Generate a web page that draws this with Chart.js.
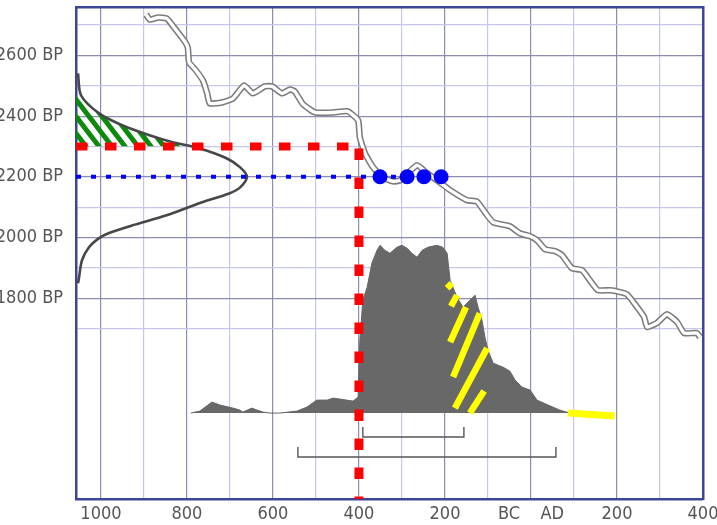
<!DOCTYPE html>
<html>
<head>
<meta charset="utf-8">
<script src="https://cdn.jsdelivr.net/npm/chart.js@4.4.1/dist/chart.umd.min.js"></script>
<style>
  html, body { margin: 0; padding: 0; background: #ffffff; }
  #wrap { width: 717px; height: 525px; position: relative; }
</style>
</head>
<body>
<div id="wrap"><canvas id="chart"></canvas></div>
<script>
// Calibration curve (calendar year, negative = BC) against radiocarbon age (BP)
const calibYear = [-895,-886,-867,-847,-828,-805,-798,-795,-781,-763,-753,-747,-719,-693,-667,-647,-619,-602,-579,-560,-549,-530,-502,-460,-426,-402,-398,-386,-367,-344,-321,-305,-265,-242,-212,-188,-149,-126,-107,-88,-49,-26,-2,14,33,56,72,95,119,142,156,184,207,223,242,263,270,293,316,340,356,386,393];
const calibBP = [2735,2718,2725,2722,2689,2646,2626,2577,2554,2518,2475,2442,2445,2458,2501,2475,2498,2498,2475,2488,2481,2439,2412,2412,2416,2386,2330,2277,2231,2198,2185,2188,2238,2212,2182,2156,2123,2119,2083,2050,2037,2014,2004,1991,1961,1955,1942,1899,1892,1849,1826,1826,1820,1813,1780,1738,1705,1718,1747,1721,1685,1685,1672];

// Measured radiocarbon age: normal distribution drawn sideways along the BP axis
const measuredBP = [1849,1869,1925,1968,1998,2014,2040,2073,2113,2146,2165,2200,2231,2261,2294,2314,2337,2370,2409,2468,2541];
const measuredDensity = [0.012,0.018,0.035,0.076,0.135,0.19,0.33,0.53,0.72,0.9,0.96,1.0,0.96,0.88,0.72,0.565,0.43,0.27,0.135,0.03,0.012];

// Hatched upper tail of the measured distribution (older than 2300 BP)
const hatchBP = [2300,2314,2337,2370,2409,2468];
const hatchDensity = [0.66,0.565,0.43,0.27,0.135,0.03];

// Calibrated calendar-age probability
const calYear = [-791,-770,-742,-723,-693,-677,-670,-649,-637,-623,-607,-584,-544,-521,-498,-474,-460,-444,-414,-402,-398,-391,-381,-370,-358,-351,-340,-328,-312,-300,-288,-277,-265,-253,-240,-219,-205,-195,-188,-172,-158,-142,-130,-123,-114,-107,-100,-88,-65,-49,-37,-21,-2,14,40,67,91];
const calProb = [0,0.02,0.11,0.08,0.05,0.03,0.01,0.05,0.03,0.01,0,0,0.02,0.06,0.13,0.13,0.15,0.14,0.12,0.16,0.73,1.13,1.26,1.5,1.63,1.68,1.63,1.6,1.66,1.68,1.65,1.6,1.56,1.63,1.66,1.68,1.66,1.6,1.33,1.16,1.06,1.13,1.18,1.06,0.93,0.76,0.63,0.5,0.46,0.42,0.33,0.26,0.23,0.13,0.08,0.03,0];

// Measured age, its intercepts with the curve and the 2300 BP / 400 BC cut-off
const measuredAge = 2200;
const interceptYear = [-351,-288,-249,-209];
const cutoffBP = 2300;
const cutoffYear = -400;

// Calendar ranges (brackets under the distribution)
const rangeInner = [-391,-156];
const rangeOuter = [-542,58];
const rangeInnerLevel = [-0.14,-0.24];
const rangeOuterLevel = [-0.34,-0.44];

// Yellow marks over the falling edge and the late tail
const markYear = [[-195,-184],[-186,-172],[-188,-151],[-181,-119],[-177,-102],[-142,-109]];
const markProb = [[1.25,1.30],[1.07,1.18],[0.71,1.06],[0.36,1.00],[0.05,0.65],[0.00,0.22]];
const tailYear = [86,195];
const tailProb = [0,-0.03];

// Axis ticks
const xGrid = [-1000,-900,-800,-700,-600,-500,-400,-300,-200,-100,0,100,200,300,400];
const xTickValues = [-1000,-800,-600,-400,-200,0,200,400];
const xTickLabels = ['1000','800','600','400','200','BC    AD','200','400'];
const yGrid = [1700,1800,1900,2000,2100,2200,2300,2400,2500,2600,2700];
const yTickValues = [1800,2000,2200,2400,2600];
const yTickLabels = ['1800 BP','2000 BP','2200 BP','2400 BP','2600 BP'];

const FONT = "'Liberation Sans Narrow','DejaVu Sans Condensed','Liberation Sans',Arial,sans-serif";
const MAJOR = '#8c8cb2';
const MINOR = '#c6c6ea';
const FRAME = '#3b4696';
const TEXT = '#555555';

const pts = (xs, ys) => xs.map((x, i) => ({ x: x, y: ys[i] }));

function stripePattern(color, w, h, lw) {
  const c = document.createElement('canvas');
  c.width = w; c.height = h;
  const g = c.getContext('2d');
  g.strokeStyle = color;
  g.lineWidth = lw;
  g.lineCap = 'square';
  for (let k = -1; k <= 1; k++) {
    g.beginPath();
    g.moveTo(k * w, 0);
    g.lineTo(k * w + w, h);
    g.stroke();
  }
  return g.createPattern(c, 'repeat');
}

const datasets = [];

// range brackets
[[rangeInner, rangeInnerLevel], [rangeOuter, rangeOuterLevel]].forEach(([r, lv]) => {
  datasets.push({
    data: [{x: r[0], y: lv[0]}, {x: r[0], y: lv[1]}, {x: r[1], y: lv[1]}, {x: r[1], y: lv[0]}],
    yAxisID: 'yp', borderColor: '#555555', borderWidth: 1.4, pointRadius: 0, order: 10
  });
});

// calibration curve drawn as a hollow band
datasets.push({
  data: pts(calibYear, calibBP), borderColor: '#7c7c7c', borderWidth: 6.5,
  borderJoinStyle: 'round', tension: 0.15, pointRadius: 0, order: 9
});
datasets.push({
  data: pts(calibYear, calibBP), borderColor: '#ffffff', borderWidth: 3.4,
  borderJoinStyle: 'round', tension: 0.15, pointRadius: 0, order: 8
});

// calibrated probability
datasets.push({
  data: pts(calYear, calProb), yAxisID: 'yp', borderColor: '#666666', borderWidth: 1,
  backgroundColor: '#686868', fill: 'origin', pointRadius: 0, order: 7
});

// hatched tail of the measured distribution
datasets.push({
  data: pts(hatchDensity, hatchBP), indexAxis: 'y', xAxisID: 'xd', yAxisID: 'y',
  borderWidth: 0, borderColor: 'rgba(0,0,0,0)',
  backgroundColor: stripePattern('#0b8a0b', 13, 17, 5), fill: 'origin', pointRadius: 0, order: 6
});

// measured distribution
datasets.push({
  data: pts(measuredDensity, measuredBP), indexAxis: 'y', xAxisID: 'xd', yAxisID: 'y',
  borderColor: '#474747', borderWidth: 2.6, tension: 0.3, pointRadius: 0, order: 5
});

// yellow marks
markYear.forEach((yr, i) => {
  datasets.push({
    data: pts(yr, markProb[i]), yAxisID: 'yp', borderColor: '#ffff00', borderWidth: 6.5,
    borderCapStyle: 'butt', pointRadius: 0, order: 4
  });
});
datasets.push({
  data: pts(tailYear, tailProb), yAxisID: 'yp', borderColor: '#ffff00', borderWidth: 7,
  borderCapStyle: 'butt', pointRadius: 0, order: 4
});

// red cut-off: 2300 BP across to 400 BC, then down to the calendar axis
datasets.push({
  data: [{x: -1058, y: cutoffBP}, {x: cutoffYear, y: cutoffBP}], borderColor: '#ff0000',
  borderWidth: 8, borderDash: [11.5, 17.5], borderCapStyle: 'butt', pointRadius: 0, order: 3
});
datasets.push({
  data: [{x: cutoffYear, y: cutoffBP}, {x: cutoffYear, y: 1120}], borderColor: '#ff0000',
  borderWidth: 9, borderDash: [11.5, 17.5], borderDashOffset: 27, borderCapStyle: 'butt',
  pointRadius: 0, order: 3
});

// measured age line and intercepts
datasets.push({
  data: [{x: -1058, y: measuredAge}, {x: interceptYear[interceptYear.length - 1], y: measuredAge}],
  borderColor: '#0000ff', borderWidth: 4, borderDash: [5, 10], borderCapStyle: 'butt',
  pointRadius: 0, order: 2
});
datasets.push({
  data: interceptYear.map(x => ({x: x, y: measuredAge})), showLine: false,
  pointRadius: 7.5, pointBackgroundColor: '#0000ff', pointBorderWidth: 0, order: 1
});

const tickFont = { family: FONT, size: 18 };

new Chart(document.getElementById('chart'), {
  type: 'line',
  data: { datasets: datasets },
  options: {
    animation: false,
    responsive: true,
    maintainAspectRatio: false,
    layout: { padding: { left: 0, right: 14, top: 7, bottom: 0 } },
    plugins: { legend: { display: false }, tooltip: { enabled: false } },
    scales: {
      x: {
        type: 'linear', position: 'bottom', min: -1058, max: 400,
        afterBuildTicks: s => { s.ticks = xGrid.map(v => ({ value: v })); },
        afterFit: s => { s.height = 26; s.paddingLeft = 0; s.paddingRight = 0; },
        grid: { color: c => (c.tick && c.tick.value % 200 === 0 ? MAJOR : MINOR), lineWidth: 1.2, drawTicks: false },
        border: { color: FRAME, width: 2.5 },
        ticks: {
          padding: 5, color: TEXT, font: tickFont, maxRotation: 0, autoSkip: false,
          callback: v => { const i = xTickValues.indexOf(v); return i < 0 ? '' : xTickLabels[i]; }
        }
      },
      y: {
        type: 'linear', position: 'left', min: 1138, max: 2758,
        afterBuildTicks: s => { s.ticks = yGrid.map(v => ({ value: v })); },
        afterFit: s => { s.width = 76; s.paddingTop = 0; s.paddingBottom = 0; },
        grid: { color: c => (c.tick && c.tick.value % 200 === 0 ? MAJOR : MINOR), lineWidth: 1.2, drawTicks: false },
        border: { color: FRAME, width: 2.5 },
        ticks: {
          padding: 13, color: TEXT, font: tickFont, autoSkip: false,
          callback: v => { const i = yTickValues.indexOf(v); return i < 0 ? '' : yTickLabels[i]; }
        }
      },
      xd: {
        type: 'linear', position: 'top', min: 0, max: 3.667,
        afterFit: s => { s.height = 0; s.paddingLeft = 0; s.paddingRight = 0; },
        ticks: { display: false },
        grid: { display: false, drawTicks: false },
        border: { color: FRAME, width: 2.5 }
      },
      yp: {
        type: 'linear', position: 'right', min: -0.86, max: 4.06,
        afterFit: s => { s.width = 0; s.paddingTop = 0; s.paddingBottom = 0; },
        ticks: { display: false },
        grid: { display: false, drawTicks: false },
        border: { color: FRAME, width: 2.5 }
      }
    }
  }
});
</script>
</body>
</html>
